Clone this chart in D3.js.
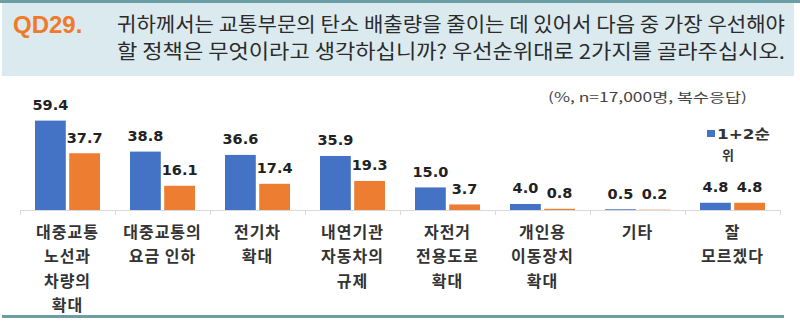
<!DOCTYPE html>
<html><head><meta charset="utf-8">
<script src="https://cdn.jsdelivr.net/npm/d3@7"></script>
<style>
html,body{margin:0;padding:0;background:#fff;}
svg{display:block;}
</style></head>
<body>
<svg id="c" width="800" height="322"></svg>
<script>
const questionCode = "QD29.";
const questionLines = [
  "귀하께서는 교통부문의 탄소 배출량을 줄이는 데 있어서 다음 중 가장 우선해야",
  "할 정책은 무엇이라고 생각하십니까? 우선순위대로 2가지를 골라주십시오."
];
const note = "(%, n=17,000명, 복수응답)";
const categories = [
  ["대중교통","노선과","차량의","확대"],
  ["대중교통의","요금 인하"],
  ["전기차","확대"],
  ["내연기관","자동차의","규제"],
  ["자전거","전용도로","확대"],
  ["개인용","이동장치","확대"],
  ["기타"],
  ["잘","모르겠다"]
];
const seriesNames = ["1+2순위", "1순위"];
const rank12 = [59.4, 38.8, 36.6, 35.9, 15.0, 4.0, 0.5, 4.8];
const rank1  = [37.7, 16.1, 17.4, 19.3, 3.7, 0.8, 0.2, 4.8];
const legendLines = ["1+2순", "위"];

const colors = ["#4472c4", "#ed7d31"];
const svg = d3.select("#c");

// header
svg.append("rect").attr("x",2).attr("y",3).attr("width",792).attr("height",73).attr("fill","#dbeaef");
svg.append("rect").attr("x",0).attr("y",0).attr("width",800).attr("height",3).attr("fill","#6b9ea4");
svg.append("text").attr("x",13).attr("y",33).text(questionCode)
  .attr("font-family","Liberation Sans, Arial, sans-serif").attr("font-weight","bold")
  .attr("font-size",24).attr("fill","#f07a2a");
questionLines.forEach((t,i)=>{
  svg.append("text").attr("x",117).attr("y",32+i*27).text(t)
    .attr("font-family","Noto Sans CJK KR, sans-serif").attr("font-size",20)
    .attr("fill","#2b2b2b").attr("textLength", 668).attr("lengthAdjust","spacingAndGlyphs");
});

// scales
const x = d3.scaleBand().domain(d3.range(categories.length)).range([20,780]).padding(0);
const xs = d3.scaleBand().domain([0,1]).range([15,80]).paddingInner(0.1);
const y = d3.scaleLinear().domain([0,60]).range([210,119.7]);

// axis
const axisG = svg.append("g").attr("transform","translate(0,210)");
axisG.append("line").attr("x1",20).attr("x2",780).attr("y1",0.5).attr("y2",0.5).attr("stroke","#d9d9d9");
const bounds = d3.range(categories.length+1).map(i => i<categories.length ? x(i) : x(categories.length-1)+x.bandwidth());
axisG.selectAll("line.tick").data(bounds).join("line").attr("class","tick")
  .attr("x1",d=>d+0.5).attr("x2",d=>d+0.5).attr("y1",0).attr("y2",5).attr("stroke","#d9d9d9");

const series = [rank12, rank1];
series.forEach((vals, s)=>{
  const g = svg.append("g");
  g.selectAll("rect").data(vals).join("rect")
    .attr("x",(d,i)=>x(i)+xs(s)).attr("width",xs.bandwidth())
    .attr("y",d=>y(d)).attr("height",d=>y(0)-y(d)).attr("fill",colors[s]);
  g.selectAll("text").data(vals).join("text")
    .attr("x",(d,i)=>x(i)+xs(s)+xs.bandwidth()/2).attr("y",d=>y(d)-10.5)
    .attr("text-anchor","middle").text(d=>d.toFixed(1))
    .attr("font-family","DejaVu Sans, sans-serif").attr("font-weight","bold")
    .attr("font-size",14.5).attr("fill","#222");
});

// category labels
categories.forEach((lines,i)=>{
  lines.forEach((t,j)=>{
    svg.append("text").attr("x",x(i)+x.bandwidth()/2).attr("y",238+j*24.3)
      .attr("text-anchor","middle").text(t)
      .attr("font-family","Noto Sans CJK KR, sans-serif").attr("font-weight","bold")
      .attr("font-size",16).attr("letter-spacing",1).attr("fill","#333");
  });
});

// note
svg.append("text").attr("x",548).attr("y",102).text(note)
  .attr("font-family","Noto Sans CJK KR, sans-serif").attr("font-size",13)
  .attr("fill","#444").attr("textLength",199).attr("lengthAdjust","spacingAndGlyphs");

// legend
svg.append("rect").attr("x",707).attr("y",130).attr("width",8).attr("height",7).attr("fill",colors[0]);
svg.append("text").attr("x",717).attr("y",138.5).text(legendLines[0])
  .attr("font-family","DejaVu Sans, Noto Sans CJK KR, sans-serif").attr("font-weight","bold")
  .attr("font-size",14).attr("fill","#333").attr("textLength",53).attr("lengthAdjust","spacingAndGlyphs");
svg.append("text").attr("x",722).attr("y",160).text(legendLines[1])
  .attr("font-family","Noto Sans CJK KR, sans-serif").attr("font-weight","bold")
  .attr("font-size",13).attr("fill","#333");

// bottom line
svg.append("rect").attr("x",2).attr("y",315).attr("width",782).attr("height",3).attr("fill","#6b9ea4");
</script>
</body></html>
